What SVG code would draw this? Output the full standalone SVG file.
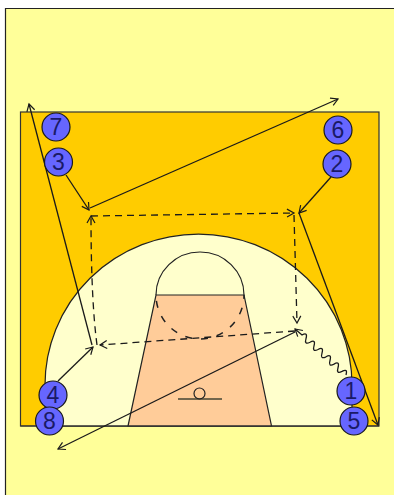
<svg xmlns="http://www.w3.org/2000/svg" width="394" height="495" viewBox="0 0 394 495">
<style>
.ln{fill:none;stroke:#1a1a1a;stroke-width:1.300}
.ar{marker-end:url(#a)}
.ds{stroke-dasharray:7 5}
.pl{fill:#6666ff;stroke:#1a1a1a;stroke-width:1.200}
.pt{font-family:"Liberation Sans",Arial,sans-serif;font-size:23px;fill:#1a1a66;text-anchor:middle}
</style>
<defs>
<marker id="a" markerUnits="userSpaceOnUse" markerWidth="12" markerHeight="12" refX="9" refY="5" orient="auto" viewBox="0 0 12 10">
<path d="M2,1 L9,5 L2,9" fill="none" stroke="#1a1a1a" stroke-width="1.200"/>
</marker>
</defs>
<rect width="394" height="495" fill="#fff"/>
<rect x="6" y="9" width="388" height="486" fill="#ffff99"/>
<path d="M5.500,495V8.500H394" fill="none" stroke="#222" stroke-width="1.200"/>
<g id="court">
<rect x="20.500" y="112" width="358.500" height="314" fill="#ffcc00" stroke="#333" stroke-width="1.200"/>
<path d="M45,426V385A153.500,151 0 0 1 352,385V426Z" fill="#ffffcc" stroke="#222" stroke-width="1.200"/>
<path d="M156,295H244L271.500,426H128Z" fill="#ffcc99" stroke="#222" stroke-width="1.200"/>
<path d="M156,295A44,43 0 0 1 244,295" fill="none" stroke="#222" stroke-width="1.200"/>
<path d="M156,295A44,44 0 0 0 244,295" fill="none" stroke="#222" stroke-width="1.500" stroke-dasharray="7 9" stroke-dashoffset="-6"/>
<path d="M178,399H222" stroke="#443" stroke-width="1.500"/>
<circle cx="199.500" cy="393.500" r="5.500" fill="none" stroke="#222" stroke-width="1.200"/>
<path d="M20.500,426H379" stroke="#333" stroke-width="1.200"/>
</g>
<g id="connectors">
<path class="ln ar" d="M92,345L29,104"/>
<path class="ln ar" d="M90,208L338,99"/>
<path class="ln ar" d="M66,175L89,210"/>
<path class="ln ar" d="M331,177L299,213"/>
<path class="ln ar" d="M299,213L378,425"/>
<path class="ln ar" d="M58,381L93,347"/>
<path class="ln ds ar" d="M97,345Q91,300 91,216"/>
<path class="ln ds ar" d="M91,216L294,213"/>
<path class="ln ds ar" d="M294,215L297,323"/>
<path class="ln ds ar" d="M295,331L100,345"/>
<path class="ln ar" d="M346,375q2,-7 -4,-3.640q-6,3 -4,-3.640q2,-7 -4,-3.640q-6,3 -4,-3.640q2,-7 -4,-3.640q-6,3 -4,-3.640q2,-7 -4,-3.640q-6,3 -4,-3.640q2,-7 -4,-3.640q-6,3 -4,-3.640q2,-7 -4,-3.640L295,329"/>
<path class="ln ar" d="M295,332L58,449"/>
</g>
<g id="p7"><circle class="pl" cx="56" cy="127" r="14"/><text class="pt" x="56" y="135">7</text></g>
<g id="p3"><circle class="pl" cx="58.500" cy="162" r="14"/><text class="pt" x="58.500" y="170">3</text></g>
<g id="p6"><circle class="pl" cx="338" cy="130" r="14"/><text class="pt" x="338" y="138">6</text></g>
<g id="p2"><circle class="pl" cx="337" cy="164" r="14"/><text class="pt" x="337" y="172">2</text></g>
<g id="p4"><circle class="pl" cx="53" cy="395" r="14"/><text class="pt" x="53" y="403">4</text></g>
<g id="p8"><circle class="pl" cx="49.500" cy="421" r="14"/><text class="pt" x="49.500" y="429">8</text></g>
<g id="p1"><circle class="pl" cx="351" cy="391" r="14"/><text class="pt" x="351" y="399">1</text></g>
<g id="p5"><circle class="pl" cx="354" cy="421" r="14"/><text class="pt" x="354" y="429">5</text></g>
</svg>
